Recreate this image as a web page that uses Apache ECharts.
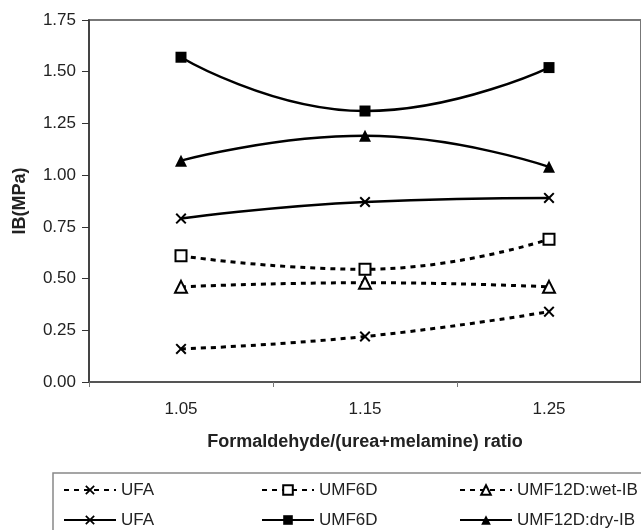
<!DOCTYPE html>
<html>
<head>
<meta charset="utf-8">
<script src="https://cdn.jsdelivr.net/npm/echarts/dist/echarts.min.js"></script>
<style>
	html,body{margin:0;padding:0;background:#fff;}
	#ibChart{width:641px;height:530px;}
</style>
</head>
<body>
<div id="ibChart"></div>
<script>
	// F/(U+M) molar ratio
	var ratios = ['1.05', '1.15', '1.25'];
	var yTicks = [0, 0.25, 0.5, 0.75, 1.0, 1.25, 1.5, 1.75];

	// wet IB (dashed)
	var ufaWet = [0.16, 0.22, 0.34];
	var umf6dWet = [0.61, 0.545, 0.69];
	var umf12dWet = [0.46, 0.48, 0.46];
	// dry IB (solid)
	var ufaDry = [0.79, 0.87, 0.89];
	var umf6dDry = [1.57, 1.31, 1.52];
	var umf12dDry = [1.07, 1.19, 1.04];

	var seriesKeys = ['UFA wet', 'UMF6D wet', 'UMF12D wet', 'UFA dry', 'UMF6D dry', 'UMF12D dry'];
	var legendLabels = ['UFA', 'UMF6D', 'UMF12D:wet-IB', 'UFA', 'UMF6D', 'UMF12D:dry-IB'];

	var xMark = 'path://M0,1.3L1.3,0L5,3.7L8.7,0L10,1.3L6.3,5L10,8.7L8.7,10L5,6.3L1.3,10L0,8.7L3.7,5Z';
	var font = "'Liberation Sans', Arial, sans-serif";

	function mkSeries(key, values, dashed, symbol, size){
		return {
			name: key,
			type: 'line',
			data: values,
			smooth: true,
			symbol: symbol,
			symbolSize: size,
			showAllSymbol: true,
			color: '#000',
			itemStyle: { color: '#000', borderColor: '#000', borderWidth: symbol.indexOf('empty') === 0 ? 1.5 : 0 },
			lineStyle: dashed ? { color: '#000', width: 3, type: [5, 5], cap: 'butt' } : { color: '#000', width: 2.5 },
			emphasis: { disabled: true }
		}
	}

	var myChart = echarts.init(document.getElementById('ibChart'));
	var option = {
		animation: false,
		textStyle: { fontFamily: font },
		grid: {
			left: 89,
			top: 20,
			right: -2,
			bottom: 148,
			show: true,
			borderColor: '#777',
			borderWidth: 2
		},
		legend: {
			data: seriesKeys,
			left: 53,
			top: 473,
			width: 600,
			orient: 'horizontal',
			padding: [7, 40, 40, 10],
			itemGap: 10,
			itemWidth: 52,
			itemHeight: 12,
			borderColor: '#888',
			borderWidth: 1.5,
			formatter: function(name){
				return legendLabels[seriesKeys.indexOf(name)];
			},
			textStyle: { fontSize: 17, color: '#222', width: 130, lineHeight: 20, fontFamily: font }
		},
		xAxis: {
			type: 'category',
			data: ratios,
			boundaryGap: true,
			axisLine: { lineStyle: { color: '#555', width: 2 } },
			axisTick: { show: true, length: 5, lineStyle: { color: '#777' } },
			axisLabel: { fontSize: 17, color: '#222', margin: 19 },
			name: 'Formaldehyde/(urea+melamine) ratio',
			nameLocation: 'middle',
			nameGap: 51,
			nameTextStyle: { fontSize: 18, fontWeight: 'bold', color: '#222' }
		},
		yAxis: {
			type: 'value',
			min: yTicks[0],
			max: yTicks[yTicks.length - 1],
			interval: 0.25,
			splitLine: { show: false },
			axisLine: { show: true, lineStyle: { color: '#333', width: 1.5 } },
			axisTick: { show: true, length: 7, lineStyle: { color: '#333' } },
			axisLabel: {
				fontSize: 17,
				color: '#222',
				margin: 13,
				formatter: function(v){ return v.toFixed(2); }
			},
			name: 'IB(MPa)',
			nameLocation: 'middle',
			nameGap: 60,
			nameTextStyle: { fontSize: 18, fontWeight: 'bold', color: '#222' }
		},
		series: [
			mkSeries(seriesKeys[0], ufaWet, true, xMark, 11),
			mkSeries(seriesKeys[1], umf6dWet, true, 'emptyRect', 11),
			mkSeries(seriesKeys[2], umf12dWet, true, 'emptyTriangle', 12),
			mkSeries(seriesKeys[3], ufaDry, false, xMark, 11),
			mkSeries(seriesKeys[4], umf6dDry, false, 'rect', 11),
			mkSeries(seriesKeys[5], umf12dDry, false, 'triangle', 12)
		]
	};
	myChart.setOption(option);
</script>
</body>
</html>
